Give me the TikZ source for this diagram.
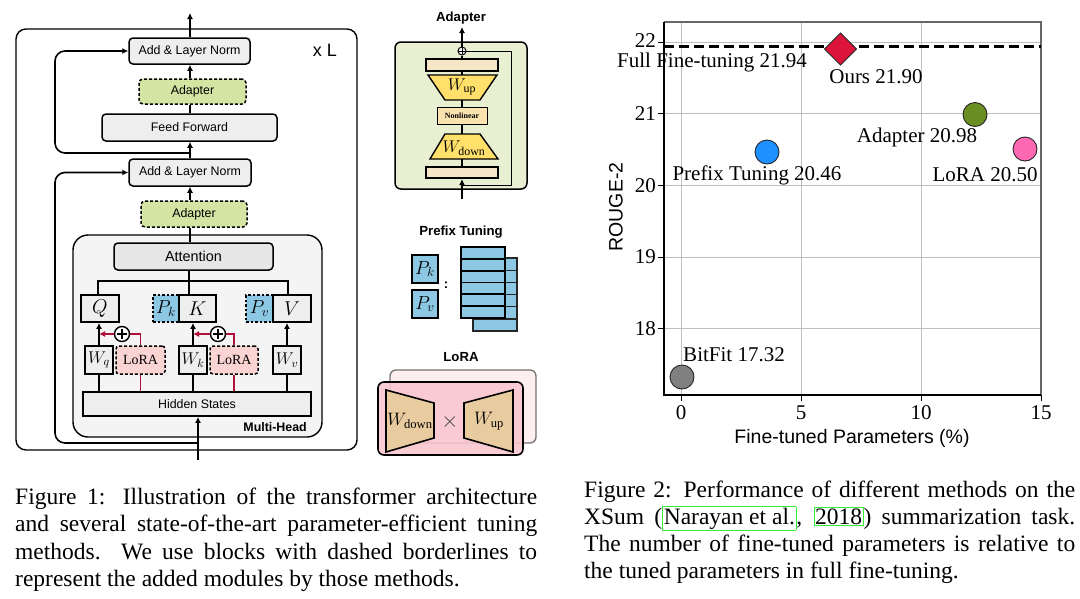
\RequirePackage{fix-cm}
\documentclass[tikz,border=0pt]{standalone}
\usepackage{fontspec}
\setmainfont{Liberation Serif}
\setsansfont{Liberation Sans}
\usetikzlibrary{arrows.meta,calc}
\newcommand\myfs[1]{\fontsize{#1pt}{#1pt}\selectfont}
\definecolor{boxgray}{HTML}{EEEEEE}
\definecolor{mhgray}{HTML}{F4F4F4}
\definecolor{attgray}{HTML}{E6E6E6}
\definecolor{adgreen}{HTML}{D4E5A3}
\definecolor{adpanel}{HTML}{E9F0D2}
\definecolor{pblue}{HTML}{8CC8E4}
\definecolor{lorapink}{HTML}{FAD3D3}
\definecolor{lorared}{HTML}{B0103A}
\definecolor{barbeige}{HTML}{F5E6C8}
\definecolor{wyellow}{HTML}{FFE06A}
\definecolor{nonlin}{HTML}{FBE3B0}
\definecolor{lpanel}{HTML}{F9C6CD}
\definecolor{wtan}{HTML}{E9CBA0}
\definecolor{mcrimson}{HTML}{DC143C}
\definecolor{mblue}{HTML}{1E90FF}
\definecolor{mgreen}{HTML}{6B8E23}
\definecolor{mpink}{HTML}{FF69B4}
\definecolor{mgray}{HTML}{808080}
\definecolor{linkgreen}{HTML}{33EE33}
\newcommand\citebox[1]{{\setlength\fboxsep{0.6pt}\setlength\fboxrule{0.9pt}\textcolor{linkgreen}{\fbox{\textcolor{black}{#1}}}}}
\tikzset{
  blk/.style={draw, line width=1.5pt, rounded corners=4pt, fill=boxgray, font=\sffamily\myfs{12.4}, inner sep=0pt},
  adp/.style={draw, line width=1.5pt, dash pattern=on 3pt off 2pt, rounded corners=4pt, fill=adgreen, font=\sffamily\myfs{12.4}, inner sep=0pt},
  mat/.style={draw, line width=1.8pt, fill=boxgray, inner sep=0pt},
  pfx/.style={draw, line width=1.8pt, dash pattern=on 2.5pt off 2pt, fill=pblue, inner sep=0pt},
  lorabox/.style={draw, line width=1.5pt, dash pattern=on 3pt off 2pt, rounded corners=3pt, fill=lorapink, inner sep=0pt, font=\rmfamily\myfs{14}},
  arr/.style={line width=1.6pt, -{Latex[length=6pt,width=6pt]}},
  ln/.style={line width=1.6pt},
  redln/.style={line width=1.6pt, draw=lorared},
  ttl/.style={font=\sffamily\bfseries\myfs{13.2}},
  gridc/.style={draw=black!25, line width=0.9pt},
  tick/.style={font=\rmfamily\myfs{21}, inner sep=0pt},
  ptlabel/.style={font=\rmfamily\myfs{21}, inner sep=0pt},
  marker/.style={draw=black!85, line width=0.9pt},
  capline/.style={anchor=base west, inner sep=0pt, font=\rmfamily\myfs{23.5}},
}
\begin{document}
\begin{tikzpicture}[x=1pt,y=-1pt]
\useasboundingbox (0,0) rectangle (1080,598);
\fill[white] (0,0) rectangle (1080,598);

% ===== Transformer block =====
\draw[line width=1.4pt, rounded corners=10pt] (16,29) rectangle (357,450);
\node[font=\sffamily\myfs{18}] (xl) at (325,50) {x L};

\node[blk, minimum width=121pt, minimum height=26pt] (an1) at (189.5,51) {Add \& Layer Norm};
\node[adp, minimum width=107pt, minimum height=25pt] (ad1) at (192.5,91.5) {Adapter};
\node[blk, minimum width=175pt, minimum height=27pt] (ff) at (189.5,127.5) {Feed Forward};
\node[blk, minimum width=122pt, minimum height=27pt] (an2) at (190,172.5) {Add \& Layer Norm};
\node[adp, minimum width=106pt, minimum height=26pt] (ad2) at (194,214) {Adapter};

\node[draw, line width=1.4pt, rounded corners=15pt, fill=mhgray, minimum width=249pt, minimum height=202pt, inner sep=0pt] (mh) at (197.5,336) {};
\node[font=\sffamily\bfseries\myfs{12.4}, anchor=east, inner sep=0pt] (mhl) at (307,427) {Multi-Head};
\node[blk, fill=attgray, minimum width=159pt, minimum height=27pt, font=\sffamily\myfs{14.4}] (att) at (193.5,256.5) {Attention};

\node[mat, minimum width=38pt, minimum height=27pt, font=\myfs{20}] (q) at (100,308.5) {$Q$};
\node[pfx, minimum width=26pt, minimum height=27pt, font=\myfs{19}] (pk) at (166,308.5) {$P_k$};
\node[mat, minimum width=37pt, minimum height=27pt, font=\myfs{20}] (k) at (197.5,308.5) {$K$};
\node[pfx, minimum width=27pt, minimum height=27pt, font=\myfs{19}] (pv) at (259.5,308.5) {$P_v$};
\node[mat, minimum width=38pt, minimum height=27pt, font=\myfs{20}] (v) at (292,308.5) {$V$};

\node[mat, minimum width=28pt, minimum height=28pt, font=\myfs{17}] (wq) at (99,360) {$W_q$};
\node[lorabox, minimum width=49pt, minimum height=28pt] (l1) at (140.5,360) {LoRA};
\node[mat, minimum width=28pt, minimum height=28pt, font=\myfs{17}] (wk) at (193,360) {$W_k$};
\node[lorabox, minimum width=48pt, minimum height=28pt] (l2) at (234,360) {LoRA};
\node[mat, minimum width=28pt, minimum height=28pt, font=\myfs{17}] (wv) at (287,360) {$W_v$};

\node[mat, minimum width=228pt, minimum height=24pt, font=\sffamily\myfs{12.4}] (hs) at (197,404) {Hidden States};

\node[circle, draw, line width=1.4pt, fill=white, minimum size=15pt, inner sep=0pt] (p1) at (122,334) {};
\node[circle, draw, line width=1.4pt, fill=white, minimum size=15pt, inner sep=0pt] (p2) at (218,334) {};
\foreach \p in {p1,p2}{
  \draw[line width=1.3pt] ($(\p)+(-5,0)$) -- ($(\p)+(5,0)$);
  \draw[line width=1.3pt] ($(\p)+(0,-5)$) -- ($(\p)+(0,5)$);
}

% connectors
\coordinate (out) at (190,13);
\draw[arr] (an1.north -| out) -- (out);
\draw[arr] (ad1.north -| out) -- (an1.south -| out);
\draw[ln] (ff.north -| out) -- (ad1.south -| out);
\draw[arr] (an2.north -| out) -- (ff.south -| out);
\coordinate (r1) at (190,153);
\draw[arr, rounded corners=10pt] (r1) -- (55,153) -- (55,51) -- (an1.west);
\draw[arr] (ad2.north -| out) -- (an2.south -| out);
\draw[ln] (att.north -| out) -- (ad2.south -| out);

\coordinate (bk) at (189,281);
\coordinate (bq) at (98,281);
\coordinate (bv) at (288,281);
\draw[ln] (att.south -| bk) -- (bk);
\draw[ln] (bq |- q.north) -- (bq) -- (bv) -- (bv |- v.north);
\draw[ln] (bk) -- (bk |- k.north);

\draw[arr] (wq.north) -- (q.south -| wq.north);
\draw[arr] (wk.north) -- (k.south -| wk.north);
\draw[arr] (wv.north) -- (v.south -| wv.north);
\draw[ln] (hs.north -| wq.south) -- (wq.south);
\draw[ln] (hs.north -| wk.south) -- (wk.south);
\draw[ln] (hs.north -| wv.south) -- (wv.south);

\draw[redln] (hs.north -| l1.south) -- (l1.south);
\draw[redln] (hs.north -| l2.south) -- (l2.south);
\draw[redln] (l1.north) -- (l1.north |- p1.east) -- (p1.east);
\draw[redln] (l2.north) -- (l2.north |- p2.east) -- (p2.east);
\draw[redln, -{Latex[length=6pt,width=6pt]}] (p1.west) -- (p1.west -| wq.north);
\draw[redln, -{Latex[length=6pt,width=6pt]}] (p2.west) -- (p2.west -| wk.north);

\coordinate (in) at (198,460);
\coordinate (r2) at (198,443);
\draw[arr] (in) -- (hs.south -| in);
\draw[arr, rounded corners=10pt] (r2) -- (55,443) -- (55,172.5) -- (an2.west);

% ===== Adapter panel =====
\node[ttl] (adt) at (461,18) {Adapter};
\node[draw, line width=1.5pt, rounded corners=6pt, fill=adpanel, minimum width=132pt, minimum height=147pt, inner sep=0pt] (adpbox) at (461,115.5) {};
\draw[line width=1pt] (466,51) -- (511,51) -- (511,185) -- (462,185);
\node[draw, line width=2.2pt, fill=barbeige, minimum width=72pt, minimum height=12pt, inner sep=0pt] (bar1) at (462,65) {};
\node[draw, line width=2.2pt, fill=barbeige, minimum width=72pt, minimum height=11pt, inner sep=0pt] (bar2) at (462,172.5) {};
\draw[line width=1.4pt, fill=wyellow] (428,75) -- (497,75) -- (480,100) -- (445,100) -- cycle;
\node[font=\myfs{17}, inner sep=0pt] (wup) at (462,87) {$W_{\mathrm{up}}$};
\node[draw, line width=1pt, fill=nonlin, minimum width=50pt, minimum height=17pt, inner sep=0pt, font=\rmfamily\bfseries\myfs{8}] (nl) at (462,115.5) {Nonlinear};
\draw[line width=1.4pt, fill=wyellow] (445,134) -- (480,134) -- (498,159) -- (430,159) -- cycle;
\node[font=\myfs{17}, inner sep=0pt] (wdn) at (464,148) {$W_{\mathrm{down}}$};
\node[circle, draw, line width=1pt, minimum size=8pt, inner sep=0pt, fill=white] (ap) at (462,51) {};
\draw[line width=0.8pt] ($(ap)+(-3,0)$) -- ($(ap)+(3,0)$);
\draw[line width=0.8pt] ($(ap)+(0,-3)$) -- ($(ap)+(0,3)$);
\draw[ln] (bar1.north) -- (ap.south);
\draw[ln] (bar1.south) -- (462,75);
\draw[ln] (462,100) -- (nl.north);
\draw[ln] (nl.south) -- (462,134);
\draw[ln] (462,159) -- (bar2.north);
\coordinate (adout) at (462,27);
\coordinate (adin) at (462,199);
\draw[arr] (ap.north) -- (adout);
\draw[arr] (adin) -- (bar2.south);

% ===== Prefix tuning panel =====
\node[ttl] (pft) at (461,232) {Prefix Tuning};
\node[draw, line width=2pt, fill=pblue, minimum width=26pt, minimum height=28pt, inner sep=0pt, font=\myfs{19}] (ppk) at (425,269) {$P_k$};
\node[draw, line width=2pt, fill=pblue, minimum width=26pt, minimum height=28pt, inner sep=0pt, font=\myfs{19}] (ppv) at (425,304) {$P_v$};
\node[font=\sffamily\bfseries\myfs{13}, inner sep=0pt] (colon) at (446,285) {:};
\foreach \i in {0,...,5}
  \draw[line width=1.3pt, draw=black!85, fill=pblue] (473,{258+12.17*\i}) rectangle (517,{258+12.17*(\i+1)});
\foreach \i in {0,...,5}
  \draw[line width=1.8pt, fill=pblue] (461,{247+11.83*\i}) rectangle (505,{247+11.83*(\i+1)});

% ===== LoRA panel =====
\node[ttl] (lrt) at (461,357) {LoRA};
\draw[line width=1.3pt, draw=black!55, fill=lpanel!30, rounded corners=6pt] (390,370) rectangle (536,443);
\draw[line width=1.6pt, fill=lpanel, fill opacity=0.88, rounded corners=6pt] (378,382) rectangle (523,455);
\draw[line width=1.6pt, fill=wtan] (386,390) -- (434,403) -- (434,438) -- (386,452) -- cycle;
\draw[line width=1.6pt, fill=wtan] (464,403) -- (513,390) -- (513,452) -- (464,438) -- cycle;
\node[font=\myfs{18}, inner sep=0pt] (lwd) at (410,421) {$W_{\mathrm{down}}$};
\node[font=\myfs{18}, inner sep=0pt] (lwu) at (489,421) {$W_{\mathrm{up}}$};
\node[font=\myfs{22}, inner sep=0pt, text=black!75] (times) at (450,422) {$\times$};

% ===== Chart =====
\foreach \gx in {681,801,921} \draw[gridc] (\gx,22) -- (\gx,395);
\foreach \gy in {42,113.7,185.4,257.1,328.8} \draw[gridc] (664,\gy) -- (1041,\gy);
\draw[line width=1.1pt, draw=black!60] (664,22) -- (1041,22) -- (1041,395);
\draw[line width=1.1pt] (664,22) -- (664,395) -- (1041,395);
\foreach \gy in {42,113.7,185.4,257.1,328.8} \draw[line width=1pt] (658,\gy) -- (664,\gy);
\foreach \gx in {681,801,921,1041} \draw[line width=1pt] (\gx,395) -- (\gx,401);
\node[tick, anchor=east] (t22) at (656,41) {22};
\node[tick, anchor=east] (t21) at (656,113.7) {21};
\node[tick, anchor=east] (t20) at (656,185.4) {20};
\node[tick, anchor=east] (t19) at (656,257.1) {19};
\node[tick, anchor=east] (t18) at (656,328.8) {18};
\node[tick] (x0) at (681,413) {0};
\node[tick] (x5) at (801,413) {5};
\node[tick] (x10) at (921,413) {10};
\node[tick] (x15) at (1041,413) {15};
\node[font=\sffamily\myfs{19.5}, inner sep=0pt] (xlab) at (852,438) {Fine-tuned Parameters (\%)};
\node[font=\sffamily\myfs{19.5}, inner sep=0pt, rotate=90] (ylab) at (616,207) {ROUGE-2};

\draw[line width=3pt, dash pattern=on 10pt off 5pt] (664,46) -- (1041,46);

\draw[marker, fill=mcrimson] (840.5,33) -- (856.5,49) -- (840.5,65) -- (824.5,49) -- cycle;
\node[circle, marker, fill=mgray, minimum size=24pt, inner sep=0pt] (bitfit) at (682,377) {};
\node[circle, marker, fill=mblue, minimum size=24pt, inner sep=0pt] (prefix) at (767,152) {};
\node[circle, marker, fill=mgreen, minimum size=24pt, inner sep=0pt] (adapter) at (975,114.5) {};
\node[circle, marker, fill=mpink, minimum size=24pt, inner sep=0pt] (lora) at (1025,149) {};

\node[ptlabel] (lfull) at (712,62) {Full Fine-tuning 21.94};
\node[ptlabel] (lours) at (876,77) {Ours 21.90};
\node[ptlabel] (ladp) at (917,137) {Adapter 20.98};
\node[ptlabel] (lpfx) at (757,175) {Prefix Tuning 20.46};
\node[ptlabel] (llora) at (985,175) {LoRA 20.50};
\node[ptlabel] (lbit) at (734,355) {BitFit 17.32};

% ===== Captions =====
\node[capline] (c11) at (15,504) {\makebox[522pt][s]{Figure 1: Illustration of the transformer architecture}};
\node[capline] (c12) at (15,531.5) {\makebox[522pt][s]{and several state-of-the-art parameter-efficient tuning}};
\node[capline] (c13) at (15,559) {\makebox[522pt][s]{methods.\ \ We use blocks with dashed borderlines to}};
\node[capline] (c14) at (15,586.5) {represent the added modules by those methods.};

\node[capline] (c21) at (584,497) {\makebox[491pt][s]{Figure 2: Performance of different methods on the}};
\node[capline] (c22) at (584,524) {\makebox[491pt][s]{XSum (\citebox{Narayan et al.}, \citebox{2018}) summarization task.}};
\node[capline] (c23) at (584,551) {\makebox[491pt][s]{The number of fine-tuned parameters is relative to}};
\node[capline] (c24) at (584,578) {the tuned parameters in full fine-tuning.};
\end{tikzpicture}
\end{document}
